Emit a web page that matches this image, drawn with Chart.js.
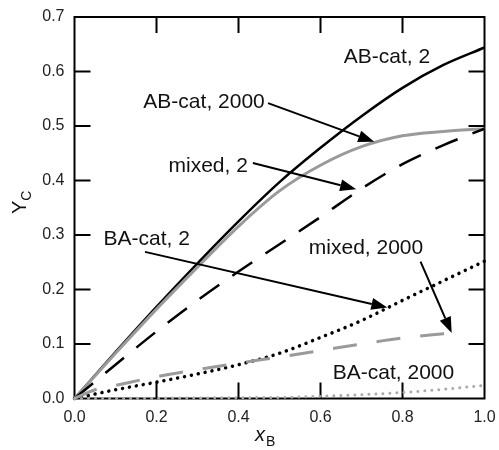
<!DOCTYPE html>
<html>
<head>
<meta charset="utf-8">
<script src="https://cdn.jsdelivr.net/npm/chart.js@4"></script>
<style>
  html, body { margin: 0; padding: 0; background: #fff; }
</style>
</head>
<body>
<canvas id="chart" width="499" height="450"></canvas>
<script>
// x_B grid shared by most curves
const xB = [0, 0.1, 0.2, 0.3, 0.4, 0.5, 0.6, 0.7, 0.8, 0.9, 1.0];
const abCat2    = [0, 0.085, 0.168, 0.248, 0.325, 0.397, 0.460, 0.518, 0.570, 0.612, 0.644];
const abCat2000 = [0, 0.083, 0.164, 0.241, 0.316, 0.381, 0.428, 0.462, 0.482, 0.490, 0.495];
const mixed2    = [0, 0.062, 0.123, 0.180, 0.233, 0.283, 0.333, 0.385, 0.430, 0.465, 0.495];
const baCat2    = [0, 0.016, 0.030, 0.045, 0.062, 0.083, 0.112, 0.143, 0.180, 0.216, 0.252];
const baCat2000 = [0, 0.000, 0.0005, 0.001, 0.0015, 0.002, 0.004, 0.007, 0.011, 0.017, 0.024];
// mixed, 2000 stops a bit before x_B = 1
const mixed2000X = [0, 0.05, 0.1, 0.2, 0.3, 0.4, 0.5, 0.6, 0.7, 0.8, 0.9, 0.94];
const mixed2000  = [0, 0.016, 0.024, 0.040, 0.053, 0.065, 0.076, 0.088, 0.100, 0.111, 0.119, 0.122];

const xTicks = [0, 0.2, 0.4, 0.6, 0.8, 1.0];
const yTicks = [0, 0.1, 0.2, 0.3, 0.4, 0.5, 0.6, 0.7];

// annotation text (data coords of text centre)
const labelText = ['AB-cat, 2', 'AB-cat, 2000', 'mixed, 2', 'BA-cat, 2', 'mixed, 2000', 'BA-cat, 2000'];
const labelX    = [0.762, 0.316, 0.326, 0.176, 0.711, 0.778];
const labelY    = [0.627, 0.544, 0.427, 0.293, 0.276, 0.047];
// arrows: [from x, from y, to x, to y]
const arrows = [
  [0.472, 0.542, 0.731, 0.471],
  [0.435, 0.432, 0.687, 0.384],
  [0.172, 0.269, 0.763, 0.167],
  [0.844, 0.251, 0.920, 0.120]
];

const pts = (xs, ys) => xs.map((x, i) => ({x, y: ys[i]}));

const GRAY = '#9a9a9a';
const FONT = '"Liberation Sans", Arial, sans-serif';
const TICK = 16;

// box + inward ticks, drawn under the curves
const frame = {
  id: 'frame',
  beforeDatasetsDraw(chart) {
    const {ctx, chartArea: a, scales: {x, y}} = chart;
    ctx.save();
    ctx.strokeStyle = '#000';
    ctx.lineWidth = 2;
    ctx.strokeRect(a.left, a.top, a.right - a.left, a.bottom - a.top);
    ctx.beginPath();
    xTicks.slice(1, -1).forEach(v => {
      const px = x.getPixelForValue(v);
      ctx.moveTo(px, a.bottom); ctx.lineTo(px, a.bottom - TICK);
      ctx.moveTo(px, a.top); ctx.lineTo(px, a.top + TICK);
    });
    yTicks.slice(1, -1).forEach(v => {
      const py = y.getPixelForValue(v);
      ctx.moveTo(a.left, py); ctx.lineTo(a.left + TICK, py);
      ctx.moveTo(a.right, py); ctx.lineTo(a.right - TICK, py);
    });
    ctx.stroke();
    ctx.restore();
  }
};

const notes = {
  id: 'notes',
  afterDraw(chart) {
    const {ctx, scales: {x, y}} = chart;
    ctx.save();
    // arrows
    ctx.strokeStyle = '#000';
    ctx.fillStyle = '#000';
    ctx.lineWidth = 2;
    arrows.forEach(([x0, y0, x1, y1]) => {
      const sx = x.getPixelForValue(x0), sy = y.getPixelForValue(y0);
      const ex = x.getPixelForValue(x1), ey = y.getPixelForValue(y1);
      const ang = Math.atan2(ey - sy, ex - sx);
      const hl = 16, hw = 6;
      const bx = ex - hl * Math.cos(ang), by = ey - hl * Math.sin(ang);
      ctx.beginPath();
      ctx.moveTo(sx, sy); ctx.lineTo(bx, by);
      ctx.stroke();
      ctx.beginPath();
      ctx.moveTo(ex, ey);
      ctx.lineTo(bx + hw * Math.sin(ang), by - hw * Math.cos(ang));
      ctx.lineTo(bx - hw * Math.sin(ang), by + hw * Math.cos(ang));
      ctx.closePath();
      ctx.fill();
    });

    // annotation labels
    ctx.font = '21px ' + FONT;
    ctx.fillStyle = '#111';
    ctx.textAlign = 'center';
    ctx.textBaseline = 'middle';
    labelText.forEach((t, i) => {
      ctx.fillText(t, x.getPixelForValue(labelX[i]), y.getPixelForValue(labelY[i]));
    });

    // axis titles with subscripts
    ctx.textAlign = 'left';
    ctx.textBaseline = 'alphabetic';
    ctx.font = 'italic 20px ' + FONT;
    const xt = 255, xtY = 441;
    ctx.fillText('x', xt, xtY);
    const xw = ctx.measureText('x').width;
    ctx.font = '14px ' + FONT;
    ctx.fillText('B', xt + xw + 1, xtY + 5);

    ctx.translate(26, 214);
    ctx.rotate(-Math.PI / 2);
    ctx.font = '20px ' + FONT;
    ctx.fillText('Y', 0, 0);
    const yw = ctx.measureText('Y').width;
    ctx.font = '14px ' + FONT;
    ctx.fillText('C', yw, 5);
    ctx.restore();
  }
};

const line = (data, color, width, dash, cap) => ({
  data, borderColor: color, borderWidth: width, borderDash: dash || [],
  borderCapStyle: cap || 'butt', pointRadius: 0, fill: false,
  cubicInterpolationMode: 'monotone', clip: false
});

new Chart(document.getElementById('chart'), {
  type: 'line',
  data: {
    datasets: [
      line(pts(xB, baCat2000), '#aaaaaa', 3, [0.01, 7], 'round'),
      line(pts(mixed2000X, mixed2000), GRAY, 3, [24, 20]),
      line(pts(xB, baCat2), '#000', 3.5, [0.01, 7], 'round'),
      line(pts(xB, mixed2), '#000', 2.5, [24, 16]),
      line(pts(xB, abCat2000), GRAY, 3),
      line(pts(xB, abCat2), '#000', 2.5)
    ]
  },
  options: {
    responsive: false,
    animation: false,
    layout: {padding: {top: 17, right: 14.5, left: 0, bottom: 0}},
    plugins: {legend: {display: false}, tooltip: {enabled: false}},
    scales: {
      x: {
        type: 'linear', min: 0, max: 1,
        afterBuildTicks: s => { s.ticks = xTicks.map(v => ({value: v})); },
        afterFit: s => { s.height = 51.5; s.paddingLeft = 0; s.paddingRight = 0; },
        grid: {display: false, drawTicks: false},
        border: {display: false},
        ticks: {padding: 9, color: '#222', font: {family: FONT, size: 16},
                callback: v => v.toFixed(1), maxRotation: 0}
      },
      y: {
        type: 'linear', min: 0, max: 0.7,
        afterBuildTicks: s => { s.ticks = yTicks.map(v => ({value: v})); },
        afterFit: s => { s.width = 74.5; s.paddingTop = 0; s.paddingBottom = 0; },
        grid: {display: false, drawTicks: false},
        border: {display: false},
        ticks: {padding: 10, color: '#222', font: {family: FONT, size: 16},
                callback: v => v.toFixed(1)}
      }
    }
  },
  plugins: [frame, notes]
});
</script>
</body>
</html>
